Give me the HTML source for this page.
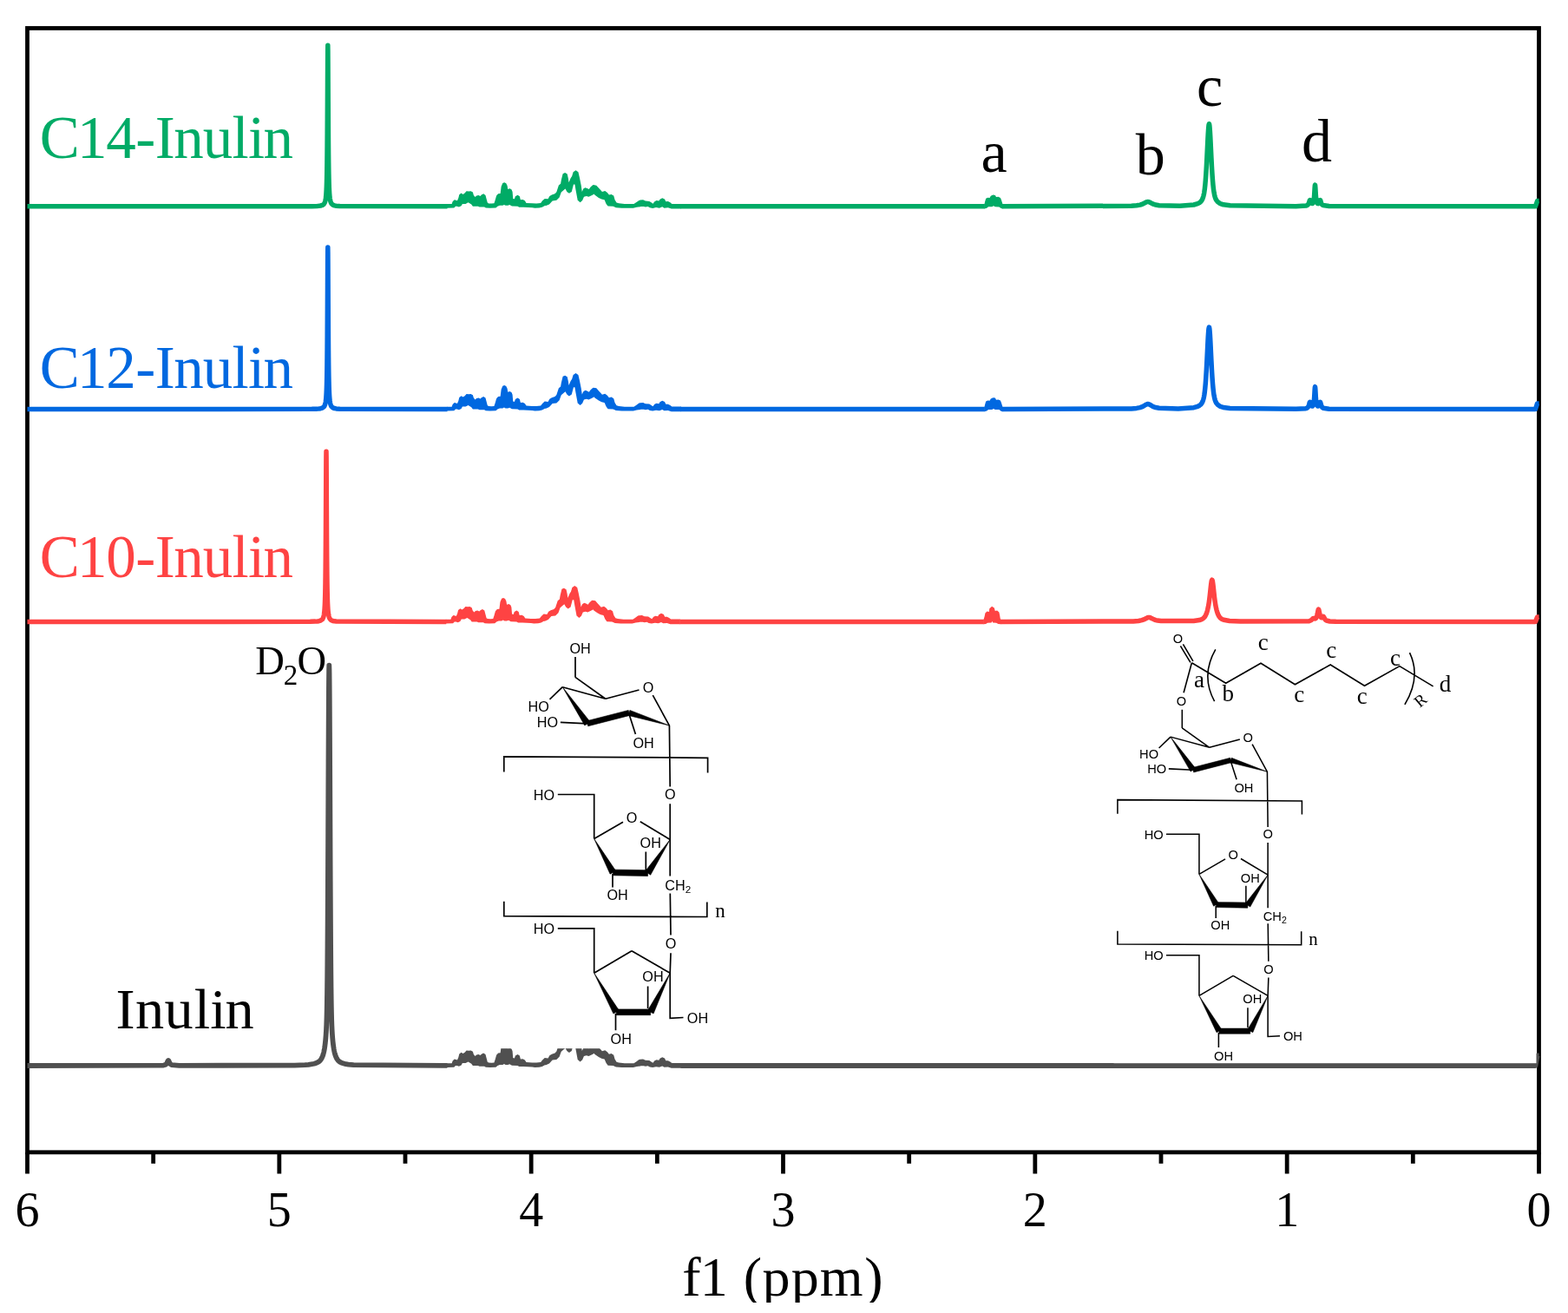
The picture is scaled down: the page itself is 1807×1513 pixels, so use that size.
<!DOCTYPE html>
<html><head><meta charset="utf-8"><title>NMR</title>
<style>
html,body{margin:0;padding:0;background:#fff;overflow:hidden}
svg{display:block}
.serif{font-family:"Liberation Serif","Times New Roman",serif}
.sans{font-family:"Liberation Sans",Arial,sans-serif}
</style></head><body>
<svg width="1807" height="1513" viewBox="0 0 1807 1513">
<rect width="1807" height="1513" fill="#fff"/>
<g stroke="#000" stroke-width="4.8" fill="none">
<rect x="31.5" y="32.5" width="1742" height="1295.3"/>
<line x1="31.50" y1="1328" x2="31.50" y2="1352.5"/><line x1="176.67" y1="1328" x2="176.67" y2="1340.8"/><line x1="321.83" y1="1328" x2="321.83" y2="1352.5"/><line x1="467.00" y1="1328" x2="467.00" y2="1340.8"/><line x1="612.17" y1="1328" x2="612.17" y2="1352.5"/><line x1="757.33" y1="1328" x2="757.33" y2="1340.8"/><line x1="902.50" y1="1328" x2="902.50" y2="1352.5"/><line x1="1047.67" y1="1328" x2="1047.67" y2="1340.8"/><line x1="1192.83" y1="1328" x2="1192.83" y2="1352.5"/><line x1="1338.00" y1="1328" x2="1338.00" y2="1340.8"/><line x1="1483.17" y1="1328" x2="1483.17" y2="1352.5"/><line x1="1628.33" y1="1328" x2="1628.33" y2="1340.8"/><line x1="1773.50" y1="1328" x2="1773.50" y2="1352.5"/>
</g>
<g fill="none" stroke-width="5.5" stroke-linejoin="round" stroke-linecap="butt">
<path d="M31.50,237.80 L359.50,237.63 L365.50,237.43 L367.50,237.27 L369.50,236.99 L371.50,236.40 L373.20,235.18 L374.00,233.99 L374.40,233.07 L374.70,232.14 L374.90,231.36 L375.10,230.41 L375.30,229.24 L375.40,228.54 L375.50,227.77 L375.60,226.89 L375.70,225.89 L375.80,224.76 L375.90,223.46 L376.00,221.96 L376.10,220.22 L376.20,218.20 L376.30,215.82 L376.40,213.00 L376.50,209.64 L376.60,205.60 L376.70,200.70 L376.80,194.72 L376.90,187.36 L377.00,178.26 L377.10,166.99 L377.20,153.10 L377.30,136.24 L377.40,116.47 L377.50,94.83 L377.60,73.96 L377.70,58.24 L377.80,52.30 L377.90,58.24 L378.00,73.96 L378.10,94.83 L378.20,116.47 L378.30,136.24 L378.40,153.10 L378.50,166.99 L378.60,178.26 L378.70,187.36 L378.80,194.72 L378.90,200.70 L379.00,205.60 L379.10,209.64 L379.20,213.00 L379.30,215.82 L379.40,218.20 L379.50,220.22 L379.60,221.96 L379.70,223.46 L379.80,224.76 L379.90,225.89 L380.00,226.89 L380.10,227.77 L380.20,228.54 L380.40,229.85 L380.60,230.91 L380.90,232.14 L381.30,233.33 L381.90,234.52 L383.70,236.20 L385.50,236.86 L387.50,237.20 L391.50,237.50 L515.50,237.80 M784.50,237.80 L1134.90,237.79 M1155.00,237.78 L1303.80,237.26 L1309.80,236.81 L1313.80,236.11 L1315.80,235.50 L1317.80,234.63 L1320.80,233.01 L1321.80,232.63 L1322.80,232.49 L1323.80,232.63 L1324.80,233.00 L1327.80,234.60 L1329.80,235.46 L1331.80,236.05 L1335.80,236.72 L1359.80,237.18 L1375.77,236.01 L1380.28,234.70 L1382.33,233.55 L1383.74,232.35 L1384.38,231.61 L1384.79,231.05 L1385.61,229.62 L1386.02,228.69 L1386.43,227.56 L1386.84,226.18 L1387.30,224.23 L1387.50,223.22 L1387.81,221.43 L1388.07,219.70 L1388.32,217.79 L1388.48,216.45 L1388.83,213.11 L1388.89,212.48 L1389.33,207.34 L1389.50,205.08 L1389.71,202.09 L1389.84,200.12 L1390.12,195.58 L1390.35,191.55 L1390.53,188.23 L1390.86,181.79 L1391.76,163.17 L1391.88,160.76 L1392.17,155.25 L1392.38,151.67 L1392.58,148.69 L1392.89,145.13 L1392.99,144.30 L1393.40,142.76 L1393.50,142.85 L1393.81,144.31 L1393.91,145.13 L1394.22,148.69 L1394.42,151.67 L1394.63,155.25 L1394.93,160.96 L1395.04,163.18 L1395.94,181.80 L1396.27,188.23 L1396.45,191.56 L1396.68,195.58 L1396.96,200.13 L1397.09,202.10 L1397.50,207.73 L1397.91,212.49 L1397.98,213.22 L1398.32,216.46 L1398.48,217.80 L1398.73,219.71 L1398.99,221.45 L1399.14,222.35 L1399.55,224.48 L1400.01,226.38 L1400.37,227.58 L1400.78,228.71 L1401.19,229.63 L1401.60,230.41 L1402.04,231.11 L1403.24,232.55 L1405.70,234.33 L1409.80,235.79 L1417.50,236.84 L1493.50,237.64 L1505.05,237.04 L1506.35,236.58 L1507.00,236.13 L1507.65,235.38 L1508.08,234.60 L1508.60,233.20 L1509.20,231.26 L1509.38,230.85 L1509.50,230.69 L1509.65,230.63 L1509.82,230.77 L1510.10,231.36 L1510.70,233.06 L1511.22,234.09 L1511.77,234.60 L1512.52,234.54 L1512.95,234.10 L1513.28,233.49 L1513.60,232.56 L1513.85,231.51 L1514.03,230.50 L1514.15,229.68 L1514.30,228.44 L1514.47,226.71 L1514.60,225.12 L1514.68,224.01 L1514.80,222.18 L1515.12,216.78 L1515.23,215.13 L1515.33,213.98 L1515.35,213.80 L1515.45,213.23 L1515.50,213.16 L1515.55,213.23 L1515.65,213.80 L1515.67,213.98 L1515.77,215.13 L1515.88,216.78 L1516.20,222.18 L1516.32,224.01 L1516.42,225.38 L1516.55,226.94 L1516.70,228.45 L1516.85,229.68 L1517.00,230.69 L1517.18,231.66 L1517.50,232.90 L1517.93,233.91 L1518.37,234.46 L1519.13,234.65 L1519.70,234.20 L1520.15,233.42 L1521.05,231.00 L1521.20,230.75 L1521.40,230.64 L1521.50,230.70 L1521.65,230.92 L1521.83,231.35 L1522.55,233.67 L1522.92,234.61 L1523.35,235.39 L1523.78,235.93 L1524.65,236.59 L1531.58,237.56 L1769.50,237.79 L1771.60,231.60 L1773.60,231.60" stroke="#00ab66"/>
<path d="M31.50,471.50 L359.50,471.33 L365.50,471.13 L367.50,470.97 L369.50,470.68 L371.50,470.09 L373.20,468.87 L373.90,467.86 L374.40,466.74 L374.70,465.81 L374.90,465.02 L375.10,464.07 L375.30,462.89 L375.40,462.19 L375.50,461.41 L375.60,460.53 L375.70,459.53 L375.80,458.39 L375.90,457.08 L376.00,455.57 L376.10,453.83 L376.20,451.79 L376.30,449.40 L376.40,446.56 L376.50,443.18 L376.60,439.12 L376.70,434.20 L376.80,428.19 L376.90,420.79 L377.00,411.64 L377.10,400.31 L377.20,386.34 L377.30,369.39 L377.40,349.52 L377.50,327.76 L377.60,306.78 L377.70,290.97 L377.80,285.00 L377.90,290.97 L378.00,306.78 L378.10,327.76 L378.20,349.52 L378.30,369.39 L378.40,386.34 L378.50,400.31 L378.60,411.64 L378.70,420.79 L378.80,428.19 L378.90,434.20 L379.00,439.12 L379.10,443.18 L379.20,446.56 L379.30,449.40 L379.40,451.79 L379.50,453.83 L379.60,455.57 L379.70,457.08 L379.80,458.39 L379.90,459.53 L380.00,460.53 L380.10,461.41 L380.20,462.19 L380.40,463.51 L380.60,464.57 L380.90,465.81 L381.30,467.00 L381.90,468.20 L383.70,469.89 L385.50,470.55 L387.50,470.90 L391.50,471.20 L515.50,471.50 M784.50,471.50 L1134.90,471.49 M1155.00,471.48 L1303.80,470.90 L1309.80,470.40 L1313.80,469.63 L1315.80,468.95 L1317.80,467.98 L1320.80,466.17 L1321.80,465.75 L1322.80,465.59 L1323.80,465.74 L1324.80,466.16 L1327.80,467.95 L1329.80,468.91 L1331.80,469.57 L1335.80,470.32 L1357.80,470.90 L1375.77,469.71 L1380.28,468.41 L1382.33,467.27 L1383.74,466.08 L1384.38,465.35 L1384.79,464.79 L1385.61,463.37 L1386.02,462.45 L1386.43,461.32 L1386.84,459.95 L1387.30,458.01 L1387.50,457.01 L1387.81,455.24 L1388.07,453.51 L1388.32,451.62 L1388.48,450.28 L1388.83,446.96 L1388.89,446.34 L1389.33,441.22 L1389.50,438.99 L1389.71,436.01 L1389.84,434.05 L1390.12,429.54 L1390.35,425.54 L1390.53,422.24 L1390.86,415.84 L1391.76,397.34 L1391.88,394.94 L1392.17,389.47 L1392.38,385.90 L1392.58,382.94 L1392.89,379.41 L1392.99,378.59 L1393.40,377.06 L1393.50,377.15 L1393.81,378.59 L1393.91,379.41 L1394.22,382.95 L1394.42,385.91 L1394.63,389.47 L1394.93,395.14 L1395.04,397.34 L1395.94,415.85 L1396.27,422.24 L1396.45,425.54 L1396.68,429.55 L1396.96,434.06 L1397.09,436.02 L1397.50,441.61 L1397.91,446.35 L1397.98,447.08 L1398.32,450.29 L1398.48,451.63 L1398.73,453.52 L1398.99,455.25 L1399.14,456.14 L1399.55,458.26 L1400.01,460.15 L1400.37,461.34 L1400.78,462.46 L1401.19,463.39 L1401.60,464.16 L1402.04,464.85 L1403.24,466.28 L1405.70,468.05 L1409.80,469.50 L1417.50,470.54 L1493.50,471.33 L1504.83,470.71 L1506.35,470.12 L1507.00,469.61 L1507.50,469.00 L1507.87,468.33 L1508.08,467.85 L1508.60,466.25 L1509.20,464.02 L1509.38,463.55 L1509.50,463.36 L1509.65,463.30 L1509.82,463.46 L1510.10,464.15 L1510.70,466.13 L1511.00,466.90 L1511.65,467.88 L1512.08,468.08 L1512.52,467.97 L1512.95,467.53 L1513.28,466.91 L1513.60,465.96 L1513.85,464.87 L1514.03,463.82 L1514.15,462.96 L1514.30,461.68 L1514.47,459.88 L1514.60,458.22 L1514.68,457.07 L1514.80,455.16 L1515.12,449.54 L1515.23,447.82 L1515.33,446.62 L1515.35,446.44 L1515.45,445.84 L1515.50,445.76 L1515.55,445.84 L1515.65,446.44 L1515.67,446.62 L1515.77,447.82 L1515.88,449.54 L1516.20,455.16 L1516.32,457.07 L1516.42,458.49 L1516.55,460.11 L1516.70,461.68 L1516.85,462.97 L1517.00,464.01 L1517.18,465.02 L1517.50,466.30 L1517.93,467.34 L1518.37,467.89 L1518.80,468.08 L1519.57,467.65 L1519.88,467.16 L1520.15,466.55 L1520.60,465.16 L1520.97,463.94 L1521.20,463.43 L1521.40,463.30 L1521.50,463.37 L1521.65,463.62 L1521.83,464.12 L1522.55,466.78 L1522.92,467.86 L1523.13,468.34 L1523.57,469.11 L1524.00,469.62 L1524.87,470.26 L1531.58,471.24 L1769.50,471.49 L1771.60,464.90 L1773.60,464.90" stroke="#0068e0"/>
<path d="M31.50,716.50 L357.50,716.33 L363.50,716.12 L365.50,715.96 L367.50,715.68 L369.50,715.10 L371.30,713.85 L372.10,712.67 L372.60,711.50 L372.90,710.51 L373.10,709.69 L373.30,708.68 L373.50,707.44 L373.60,706.71 L373.70,705.89 L373.80,704.96 L373.90,703.91 L374.00,702.70 L374.10,701.33 L374.20,699.75 L374.30,697.91 L374.40,695.77 L374.50,693.25 L374.60,690.27 L374.70,686.71 L374.80,682.44 L374.90,677.26 L375.00,670.93 L375.10,663.15 L375.20,653.53 L375.30,641.61 L375.40,626.91 L375.50,609.08 L375.60,588.17 L375.70,565.29 L375.80,543.21 L375.90,526.58 L376.00,520.30 L376.10,526.58 L376.20,543.21 L376.30,565.29 L376.40,588.17 L376.50,609.08 L376.60,626.91 L376.70,641.61 L376.80,653.53 L376.90,663.15 L377.00,670.93 L377.10,677.26 L377.20,682.44 L377.30,686.71 L377.40,690.27 L377.50,693.25 L377.60,695.77 L377.70,697.91 L377.80,699.75 L377.90,701.33 L378.00,702.70 L378.10,703.91 L378.20,704.96 L378.30,705.89 L378.40,706.71 L378.60,708.10 L378.80,709.21 L379.00,710.12 L379.30,711.20 L379.80,712.47 L380.70,713.85 L381.90,714.81 L383.50,715.45 L385.50,715.84 L387.50,716.05 L514.30,716.50 M783.30,716.50 L1133.90,716.49 M1152.90,716.49 L1306.00,715.95 L1312.00,715.44 L1316.00,714.64 L1318.00,713.93 L1322.00,711.93 L1323.00,711.56 L1324.00,711.42 L1325.00,711.55 L1326.00,711.92 L1330.00,713.91 L1332.00,714.60 L1334.00,715.07 L1338.00,715.60 L1375.62,715.54 L1382.33,714.57 L1384.92,713.67 L1386.47,712.73 L1387.50,711.81 L1388.13,711.08 L1388.80,710.12 L1389.57,708.72 L1390.13,707.46 L1390.60,706.21 L1391.12,704.59 L1391.63,702.70 L1392.15,700.43 L1392.67,697.74 L1392.80,696.99 L1393.18,694.63 L1393.50,692.41 L1393.70,690.91 L1394.22,686.64 L1394.80,681.33 L1395.25,677.08 L1395.50,674.82 L1395.77,672.58 L1396.13,670.14 L1396.28,669.37 L1396.80,668.16 L1397.32,669.37 L1397.50,670.31 L1397.83,672.58 L1398.13,675.08 L1398.35,677.08 L1398.87,682.00 L1399.50,687.68 L1399.90,690.92 L1400.13,692.63 L1400.42,694.63 L1400.80,697.00 L1400.93,697.75 L1401.50,700.67 L1401.97,702.71 L1402.48,704.60 L1403.00,706.22 L1403.52,707.60 L1404.13,708.94 L1404.80,710.13 L1405.58,711.24 L1406.13,711.86 L1407.13,712.75 L1408.17,713.43 L1410.23,714.30 L1416.95,715.49 L1429.50,716.10 L1508.57,715.70 L1510.97,714.77 L1513.17,712.62 L1513.63,712.42 L1514.20,712.53 L1515.23,712.92 L1515.83,712.85 L1516.30,712.55 L1516.60,712.22 L1516.90,711.75 L1517.20,711.13 L1517.50,710.33 L1517.90,708.90 L1518.17,707.69 L1518.83,704.22 L1519.00,703.41 L1519.23,702.57 L1519.30,702.40 L1519.50,702.18 L1519.60,702.23 L1519.77,702.54 L1519.90,702.94 L1520.03,703.47 L1520.30,704.79 L1520.83,707.49 L1521.17,708.91 L1521.50,709.98 L1521.90,710.89 L1522.30,711.46 L1522.70,711.74 L1522.97,711.77 L1523.23,711.71 L1523.50,711.54 L1524.57,710.42 L1524.83,710.31 L1525.17,710.43 L1525.63,711.08 L1526.83,713.33 L1527.50,714.19 L1528.60,715.02 L1532.50,715.97 L1539.50,716.30 L1769.50,716.50 L1771.60,711.00 L1773.60,711.00" stroke="#fe4343"/>
<path d="M31.50,1227.99 L188.40,1227.53 L190.27,1227.05 L191.07,1226.60 L191.60,1226.13 L192.13,1225.44 L192.40,1224.98 L192.93,1223.83 L193.50,1222.51 L193.73,1222.15 L194.00,1221.98 L194.27,1222.15 L194.53,1222.57 L195.60,1224.98 L196.13,1225.82 L196.67,1226.39 L197.73,1227.05 L206.53,1227.88 L339.50,1227.57 L351.50,1227.12 L355.50,1226.80 L362.08,1225.74 L364.95,1224.77 L366.59,1223.92 L367.82,1223.04 L368.64,1222.29 L369.50,1221.30 L370.28,1220.18 L370.69,1219.47 L371.10,1218.67 L371.98,1216.53 L372.47,1215.02 L372.96,1213.21 L373.28,1211.83 L373.61,1210.20 L373.97,1208.16 L374.26,1206.26 L374.42,1205.10 L374.58,1203.86 L374.79,1202.08 L374.91,1200.98 L375.07,1199.41 L375.23,1197.71 L375.40,1195.72 L375.61,1192.96 L375.72,1191.34 L375.88,1188.72 L376.02,1186.09 L376.05,1185.48 L376.21,1181.84 L376.37,1177.43 L376.43,1175.52 L376.53,1171.97 L376.70,1164.60 L376.84,1156.96 L376.86,1155.73 L377.02,1144.46 L377.19,1129.23 L377.25,1122.93 L377.35,1111.26 L377.50,1090.80 L377.51,1089.30 L377.66,1064.86 L377.67,1063.09 L377.84,1030.63 L378.00,996.18 L378.07,980.13 L378.16,958.85 L378.32,920.03 L378.48,881.51 L378.49,879.16 L378.65,843.27 L378.81,812.17 L378.89,799.08 L378.97,787.95 L379.14,771.73 L379.30,766.60 L379.46,771.73 L379.50,774.58 L379.63,787.95 L379.71,799.08 L379.79,812.17 L379.95,843.27 L380.11,879.16 L380.12,881.51 L380.28,920.03 L380.44,958.85 L380.53,980.13 L380.60,996.18 L380.76,1030.63 L380.93,1063.09 L380.94,1064.86 L381.09,1089.30 L381.25,1111.26 L381.35,1122.93 L381.41,1129.23 L381.50,1137.75 L381.58,1144.46 L381.74,1155.73 L381.76,1156.96 L381.90,1164.60 L382.07,1171.97 L382.17,1175.52 L382.23,1177.43 L382.39,1181.84 L382.55,1185.48 L382.58,1186.09 L382.72,1188.72 L382.88,1191.34 L383.04,1193.65 L383.20,1195.72 L383.40,1198.04 L383.53,1199.41 L383.69,1200.98 L383.85,1202.43 L384.02,1203.86 L384.22,1205.40 L384.51,1207.40 L384.83,1209.33 L385.16,1211.07 L385.50,1212.63 L385.97,1214.47 L386.46,1216.07 L387.11,1217.80 L387.50,1218.67 L387.91,1219.47 L388.32,1220.18 L389.14,1221.35 L389.96,1222.29 L391.60,1223.65 L393.65,1224.77 L398.57,1226.19 L401.50,1226.63 L407.50,1227.15 L515.50,1227.96 M784.50,1228.00 L1769.50,1228.00 L1771.60,1216.50 L1773.60,1216.50" stroke="#505050" stroke-width="5.8"/>
<path d="M515.00,235.05 L520.64,235.05 L521.64,232.22 L523.63,230.23 L525.62,230.73 L526.95,231.23 L528.28,228.24 L529.28,224.26 L531.60,222.60 L533.59,223.92 L535.58,222.60 L537.58,220.27 L540.23,220.44 L542.56,220.27 L544.88,221.60 L545.88,224.92 L547.54,226.91 L549.20,225.42 L551.52,224.92 L553.51,225.92 L554.84,224.59 L557.16,223.26 L559.49,224.92 L560.82,229.90 L561.81,233.55 L563.14,234.38 L566.46,234.55 L569.45,234.22 L570.78,230.23 L572.10,225.58 L574.10,223.26 L576.64,222.93 L577.64,214.96 L579.30,210.98 L581.29,210.31 L583.28,211.31 L584.61,213.96 L585.27,217.95 L587.60,217.28 L589.59,218.61 L590.58,220.94 L591.25,228.90 L592.91,229.24 L593.90,226.25 L596.56,224.75 L598.88,226.25 L599.88,230.23 L602.54,230.07 L604.86,231.23 L606.52,233.88 L613.16,234.22 L618.14,234.38 L623.12,233.88 L625.11,231.23 L627.77,228.90 L631.54,229.24 L633.36,225.97 L635.90,224.52 L639.53,223.25 L641.35,221.25 L643.90,213.62 L646.08,211.80 L646.80,207.44 L648.62,200.17 L651.16,199.08 L653.71,200.54 L654.80,205.26 L655.52,210.35 L657.70,205.26 L659.16,203.08 L660.61,198.36 L663.52,196.18 L666.42,198.36 L667.88,204.53 L669.69,213.62 L670.78,220.89 L672.24,217.62 L674.42,216.16 L676.60,216.89 L678.78,217.98 L680.60,215.44 L683.14,213.26 L683.98,212.97 L687.30,213.63 L689.63,216.29 L692.62,219.61 L693.94,220.94 L697.26,219.94 L699.92,221.93 L701.91,224.59 L704.57,223.92 L707.22,225.58 L708.55,230.23 L710.54,233.55 L713.20,234.22 L719.84,235.05 L730.46,235.05 L733.12,233.22 L736.44,230.90 L737.77,230.50 L741.09,230.22 L743.85,231.60 L748.28,231.88 L750.50,233.26 L752.43,234.65 L754.37,232.16 L756.58,231.05 L759.35,231.60 L760.46,229.67 L763.22,228.14 L765.99,229.39 L767.37,232.16 L769.86,232.02 L772.35,233.26 L774.29,234.92 L785.00,234.92 L785.00,240.46 L773.74,240.46 L769.86,239.35 L765.44,239.63 L763.22,238.24 L759.90,239.63 L756.03,239.07 L752.16,239.90 L748.84,239.35 L746.62,237.97 L743.85,238.52 L741.92,237.97 L738.32,237.97 L738.10,238.20 L733.78,238.86 L729.80,239.86 L723.16,239.86 L716.52,239.69 L709.88,239.20 L706.56,237.87 L700.58,237.54 L698.59,234.88 L696.60,230.23 L693.28,229.57 L689.96,227.91 L686.64,225.58 L684.98,224.26 L684.99,223.43 L681.69,225.25 L678.42,226.70 L675.87,225.97 L672.97,226.70 L671.15,231.06 L668.60,233.24 L665.70,230.70 L663.52,219.07 L662.43,212.53 L660.97,212.53 L658.79,220.89 L655.89,222.70 L653.34,220.89 L651.53,217.62 L649.71,219.07 L646.80,221.61 L644.62,227.43 L641.35,230.70 L636.63,231.42 L632.99,235.42 L628.63,237.24 L628.43,236.87 L624.78,238.86 L621.46,239.53 L616.48,239.69 L613.16,239.20 L603.20,238.86 L598.22,238.70 L596.56,237.87 L589.92,237.54 L587.26,236.04 L585.27,236.71 L582.62,236.87 L580.96,235.88 L579.30,236.71 L575.98,236.87 L573.43,237.87 L571.44,239.53 L564.80,239.86 L559.82,239.53 L558.16,238.53 L552.52,238.53 L550.86,237.70 L544.88,237.70 L543.22,235.54 L539.57,233.22 L536.58,234.88 L532.93,234.88 L531.60,237.20 L528.94,238.53 L526.62,237.87 L524.96,237.87 L523.30,239.53 L515.00,239.86 Z" fill="#00ab66" stroke="none"/>
<path d="M1134.50,235.05 L1135.30,231.80 L1136.20,228.80 L1138.30,227.70 L1140.50,228.00 L1141.80,225.80 L1144.50,224.50 L1146.90,224.90 L1148.00,227.00 L1150.50,226.80 L1152.90,227.90 L1153.90,230.30 L1155.40,235.05 L1155.40,240.55 L1153.50,240.00 L1151.50,238.40 L1146.80,238.20 L1145.00,237.20 L1143.20,238.20 L1139.00,238.20 L1137.20,239.80 L1134.50,240.55 Z" fill="#00ab66" stroke="none"/>
<path d="M515.00,468.75 L520.64,468.75 L521.64,465.92 L523.63,463.93 L525.62,464.43 L526.95,464.93 L528.28,461.94 L529.28,457.96 L531.60,456.30 L533.59,457.62 L535.58,456.30 L537.58,453.97 L540.23,454.14 L542.56,453.97 L544.88,455.30 L545.88,458.62 L547.54,460.61 L549.20,459.12 L551.52,458.62 L553.51,459.62 L554.84,458.29 L557.16,456.96 L559.49,458.62 L560.82,463.60 L561.81,467.25 L563.14,468.08 L566.46,468.25 L569.45,467.92 L570.78,463.93 L572.10,459.28 L574.10,456.96 L576.64,456.63 L577.64,448.66 L579.30,444.68 L581.29,444.01 L583.28,445.01 L584.61,447.66 L585.27,451.65 L587.60,450.98 L589.59,452.31 L590.58,454.64 L591.25,462.60 L592.91,462.94 L593.90,459.95 L596.56,458.45 L598.88,459.95 L599.88,463.93 L602.54,463.77 L604.86,464.93 L606.52,467.58 L613.16,467.92 L618.14,468.08 L623.12,467.58 L625.11,464.93 L627.77,462.60 L631.54,462.94 L633.36,459.67 L635.90,458.22 L639.53,456.95 L641.35,454.95 L643.90,447.32 L646.08,445.50 L646.80,441.14 L648.62,433.87 L651.16,432.78 L653.71,434.24 L654.80,438.96 L655.52,444.05 L657.70,438.96 L659.16,436.78 L660.61,432.06 L663.52,429.88 L666.42,432.06 L667.88,438.23 L669.69,447.32 L670.78,454.59 L672.24,451.32 L674.42,449.86 L676.60,450.59 L678.78,451.68 L680.60,449.14 L683.14,446.96 L683.98,446.67 L687.30,447.33 L689.63,449.99 L692.62,453.31 L693.94,454.64 L697.26,453.64 L699.92,455.63 L701.91,458.29 L704.57,457.62 L707.22,459.28 L708.55,463.93 L710.54,467.25 L713.20,467.92 L719.84,468.75 L730.46,468.75 L733.12,466.92 L736.44,464.60 L737.77,464.20 L741.09,463.92 L743.85,465.30 L748.28,465.58 L750.50,466.96 L752.43,468.35 L754.37,465.86 L756.58,464.75 L759.35,465.30 L760.46,463.37 L763.22,461.84 L765.99,463.09 L767.37,465.86 L769.86,465.72 L772.35,466.96 L774.29,468.62 L785.00,468.62 L785.00,474.16 L773.74,474.16 L769.86,473.05 L765.44,473.33 L763.22,471.94 L759.90,473.33 L756.03,472.77 L752.16,473.60 L748.84,473.05 L746.62,471.67 L743.85,472.22 L741.92,471.67 L738.32,471.67 L738.10,471.90 L733.78,472.56 L729.80,473.56 L723.16,473.56 L716.52,473.39 L709.88,472.90 L706.56,471.57 L700.58,471.24 L698.59,468.58 L696.60,463.93 L693.28,463.27 L689.96,461.61 L686.64,459.28 L684.98,457.96 L684.99,457.13 L681.69,458.95 L678.42,460.40 L675.87,459.67 L672.97,460.40 L671.15,464.76 L668.60,466.94 L665.70,464.40 L663.52,452.77 L662.43,446.23 L660.97,446.23 L658.79,454.59 L655.89,456.40 L653.34,454.59 L651.53,451.32 L649.71,452.77 L646.80,455.31 L644.62,461.13 L641.35,464.40 L636.63,465.12 L632.99,469.12 L628.63,470.94 L628.43,470.57 L624.78,472.56 L621.46,473.23 L616.48,473.39 L613.16,472.90 L603.20,472.56 L598.22,472.40 L596.56,471.57 L589.92,471.24 L587.26,469.74 L585.27,470.41 L582.62,470.57 L580.96,469.58 L579.30,470.41 L575.98,470.57 L573.43,471.57 L571.44,473.23 L564.80,473.56 L559.82,473.23 L558.16,472.23 L552.52,472.23 L550.86,471.40 L544.88,471.40 L543.22,469.24 L539.57,466.92 L536.58,468.58 L532.93,468.58 L531.60,470.90 L528.94,472.23 L526.62,471.57 L524.96,471.57 L523.30,473.23 L515.00,473.56 Z" fill="#0068e0" stroke="none"/>
<path d="M1134.50,468.75 L1135.30,465.50 L1136.20,462.50 L1138.30,461.40 L1140.50,461.70 L1141.80,459.50 L1144.50,458.20 L1146.90,458.60 L1148.00,460.70 L1150.50,460.50 L1152.90,461.60 L1153.90,464.00 L1155.40,468.75 L1155.40,474.25 L1153.50,473.70 L1151.50,472.10 L1146.80,471.90 L1145.00,470.90 L1143.20,471.90 L1139.00,471.90 L1137.20,473.50 L1134.50,474.25 Z" fill="#0068e0" stroke="none"/>
<path d="M513.80,713.75 L519.44,713.75 L520.44,710.92 L522.43,708.93 L524.42,709.43 L525.75,709.93 L527.08,706.94 L528.08,702.96 L530.40,701.30 L532.39,702.62 L534.38,701.30 L536.38,698.97 L539.03,699.14 L541.36,698.97 L543.68,700.30 L544.68,703.62 L546.34,705.61 L548.00,704.12 L550.32,703.62 L552.31,704.62 L553.64,703.29 L555.96,701.96 L558.29,703.62 L559.62,708.60 L560.61,712.25 L561.94,713.08 L565.26,713.25 L568.25,712.92 L569.58,708.93 L570.90,704.28 L572.90,701.96 L575.44,701.63 L576.44,693.66 L578.10,689.68 L580.09,689.01 L582.08,690.01 L583.41,692.66 L584.07,696.65 L586.40,695.98 L588.39,697.31 L589.38,699.64 L590.05,707.60 L591.71,707.94 L592.70,704.95 L595.36,703.45 L597.68,704.95 L598.68,708.93 L601.34,708.77 L603.66,709.93 L605.32,712.58 L611.96,712.92 L616.94,713.08 L621.92,712.58 L623.91,709.93 L626.57,707.60 L630.34,707.94 L632.16,704.67 L634.70,703.22 L638.33,701.95 L640.15,699.95 L642.70,692.32 L644.88,690.50 L645.60,686.14 L647.42,678.87 L649.96,677.78 L652.51,679.24 L653.60,683.96 L654.32,689.05 L656.50,683.96 L657.96,681.78 L659.41,677.06 L662.32,674.88 L665.22,677.06 L666.68,683.23 L668.49,692.32 L669.58,699.59 L671.04,696.32 L673.22,694.86 L675.40,695.59 L677.58,696.68 L679.40,694.14 L681.94,691.96 L682.78,691.67 L686.10,692.33 L688.43,694.99 L691.42,698.31 L692.74,699.64 L696.06,698.64 L698.72,700.63 L700.71,703.29 L703.37,702.62 L706.02,704.28 L707.35,708.93 L709.34,712.25 L712.00,712.92 L718.64,713.75 L729.26,713.75 L731.92,711.92 L735.24,709.60 L736.57,709.20 L739.89,708.92 L742.65,710.30 L747.08,710.58 L749.30,711.96 L751.23,713.35 L753.17,710.86 L755.38,709.75 L758.15,710.30 L759.26,708.37 L762.02,706.84 L764.79,708.09 L766.17,710.86 L768.66,710.72 L771.15,711.96 L773.09,713.62 L783.80,713.62 L783.80,719.16 L772.54,719.16 L768.66,718.05 L764.24,718.33 L762.02,716.94 L758.70,718.33 L754.83,717.77 L750.96,718.60 L747.64,718.05 L745.42,716.67 L742.65,717.22 L740.72,716.67 L737.12,716.67 L736.90,716.90 L732.58,717.56 L728.60,718.56 L721.96,718.56 L715.32,718.39 L708.68,717.90 L705.36,716.57 L699.38,716.24 L697.39,713.58 L695.40,708.93 L692.08,708.27 L688.76,706.61 L685.44,704.28 L683.78,702.96 L683.79,702.13 L680.49,703.95 L677.22,705.40 L674.67,704.67 L671.77,705.40 L669.95,709.76 L667.40,711.94 L664.50,709.40 L662.32,697.77 L661.23,691.23 L659.77,691.23 L657.59,699.59 L654.69,701.40 L652.14,699.59 L650.33,696.32 L648.51,697.77 L645.60,700.31 L643.42,706.13 L640.15,709.40 L635.43,710.12 L631.79,714.12 L627.43,715.94 L627.23,715.57 L623.58,717.56 L620.26,718.23 L615.28,718.39 L611.96,717.90 L602.00,717.56 L597.02,717.40 L595.36,716.57 L588.72,716.24 L586.06,714.74 L584.07,715.41 L581.42,715.57 L579.76,714.58 L578.10,715.41 L574.78,715.57 L572.23,716.57 L570.24,718.23 L563.60,718.56 L558.62,718.23 L556.96,717.23 L551.32,717.23 L549.66,716.40 L543.68,716.40 L542.02,714.24 L538.37,711.92 L535.38,713.58 L531.73,713.58 L530.40,715.90 L527.74,717.23 L525.42,716.57 L523.76,716.57 L522.10,718.23 L513.80,718.56 Z" fill="#fe4343" stroke="none"/>
<path d="M1133.50,713.75 L1133.80,713.30 L1134.70,709.90 L1135.40,706.40 L1137.50,704.60 L1139.80,705.00 L1140.30,701.30 L1143.10,698.80 L1145.80,700.40 L1146.80,704.10 L1149.10,703.60 L1151.40,705.50 L1152.10,708.70 L1152.80,712.90 L1153.30,713.75 L1153.30,719.25 L1150.40,719.10 L1148.10,717.70 L1144.20,717.50 L1143.40,715.70 L1142.60,717.50 L1138.00,717.70 L1136.10,719.10 L1133.50,719.25 Z" fill="#fe4343" stroke="none"/>
<path d="M515.00,1225.25 L520.64,1225.25 L521.64,1222.42 L523.63,1220.43 L525.62,1220.93 L526.95,1221.43 L528.28,1218.44 L529.28,1214.46 L531.60,1212.80 L533.59,1214.12 L535.58,1212.80 L537.58,1210.47 L540.23,1210.64 L542.56,1210.47 L544.88,1211.80 L545.88,1215.12 L547.54,1217.11 L549.20,1215.62 L551.52,1215.12 L553.51,1216.12 L554.84,1214.79 L557.16,1213.46 L559.49,1215.12 L560.82,1220.10 L561.81,1223.75 L563.14,1224.58 L566.46,1224.75 L569.45,1224.42 L570.78,1220.43 L572.10,1215.78 L574.10,1213.46 L576.64,1213.13 L577.64,1205.16 L579.30,1201.18 L581.29,1200.51 L583.28,1201.51 L584.61,1204.16 L585.27,1208.15 L587.60,1207.48 L589.59,1208.81 L590.58,1211.14 L591.25,1219.10 L592.91,1219.44 L593.90,1216.45 L596.56,1214.95 L598.88,1216.45 L599.88,1220.43 L602.54,1220.27 L604.86,1221.43 L606.52,1224.08 L613.16,1224.42 L618.14,1224.58 L623.12,1224.08 L625.11,1221.43 L627.77,1219.10 L631.54,1219.44 L633.36,1216.17 L635.90,1214.72 L639.53,1213.45 L641.35,1211.45 L643.90,1203.82 L646.08,1202.00 L646.80,1197.64 L648.62,1190.37 L651.16,1189.28 L653.71,1190.74 L654.80,1195.46 L655.52,1200.55 L657.70,1195.46 L659.16,1193.28 L660.61,1188.56 L663.52,1186.38 L666.42,1188.56 L667.88,1194.73 L669.69,1203.82 L670.78,1211.09 L672.24,1207.82 L674.42,1206.36 L676.60,1207.09 L678.78,1208.18 L680.60,1205.64 L683.14,1203.46 L683.98,1203.17 L687.30,1203.83 L689.63,1206.49 L692.62,1209.81 L693.94,1211.14 L697.26,1210.14 L699.92,1212.13 L701.91,1214.79 L704.57,1214.12 L707.22,1215.78 L708.55,1220.43 L710.54,1223.75 L713.20,1224.42 L719.84,1225.25 L730.46,1225.25 L733.12,1223.42 L736.44,1221.10 L737.77,1220.70 L741.09,1220.42 L743.85,1221.80 L748.28,1222.08 L750.50,1223.46 L752.43,1224.85 L754.37,1222.36 L756.58,1221.25 L759.35,1221.80 L760.46,1219.87 L763.22,1218.34 L765.99,1219.59 L767.37,1222.36 L769.86,1222.22 L772.35,1223.46 L774.29,1225.12 L785.00,1225.12 L785.00,1230.66 L773.74,1230.66 L769.86,1229.55 L765.44,1229.83 L763.22,1228.44 L759.90,1229.83 L756.03,1229.27 L752.16,1230.10 L748.84,1229.55 L746.62,1228.17 L743.85,1228.72 L741.92,1228.17 L738.32,1228.17 L738.10,1228.40 L733.78,1229.06 L729.80,1230.06 L723.16,1230.06 L716.52,1229.89 L709.88,1229.40 L706.56,1228.07 L700.58,1227.74 L698.59,1225.08 L696.60,1220.43 L693.28,1219.77 L689.96,1218.11 L686.64,1215.78 L684.98,1214.46 L684.99,1213.63 L681.69,1215.45 L678.42,1216.90 L675.87,1216.17 L672.97,1216.90 L671.15,1221.26 L668.60,1223.44 L665.70,1220.90 L663.52,1209.27 L662.43,1202.73 L660.97,1202.73 L658.79,1211.09 L655.89,1212.90 L653.34,1211.09 L651.53,1207.82 L649.71,1209.27 L646.80,1211.81 L644.62,1217.63 L641.35,1220.90 L636.63,1221.62 L632.99,1225.62 L628.63,1227.44 L628.43,1227.07 L624.78,1229.06 L621.46,1229.73 L616.48,1229.89 L613.16,1229.40 L603.20,1229.06 L598.22,1228.90 L596.56,1228.07 L589.92,1227.74 L587.26,1226.24 L585.27,1226.91 L582.62,1227.07 L580.96,1226.08 L579.30,1226.91 L575.98,1227.07 L573.43,1228.07 L571.44,1229.73 L564.80,1230.06 L559.82,1229.73 L558.16,1228.73 L552.52,1228.73 L550.86,1227.90 L544.88,1227.90 L543.22,1225.74 L539.57,1223.42 L536.58,1225.08 L532.93,1225.08 L531.60,1227.40 L528.94,1228.73 L526.62,1228.07 L524.96,1228.07 L523.30,1229.73 L515.00,1230.06 Z" fill="#505050" stroke="none"/>
</g>
<rect x="576" y="724" width="262" height="484.2" fill="#fff"/>
<g><path fill="none" stroke="#000" stroke-width="1.7" stroke-linejoin="miter" stroke-linecap="butt" d="M663.0,757.1 L663.0,780.4 M663.0,780.4 L697.8,805.2 M648.3,791.7 L697.8,805.2 M697.8,805.2 L736.5,795.0 M752.3,801.2 L771.4,836.1 M648.3,791.7 L633.5,805.9 M676.9,833.8 L645.9,832.3 M725.0,823.0 L732.4,845.9 M771.4,836.1 L772.2,906.6 M580.8,889.6 L580.8,871.8 L815.6,873.3 L815.6,890.4 M772.2,926.3 L772.2,967.4 M642.8,915.5 L684.7,915.5 L684.7,966.6 M684.7,966.6 L718.0,947.3 M737.8,946.8 L772.2,967.4 M744.3,1003.0 L744.3,981.4 M706.0,1007.0 L706.0,1022.4 M772.2,967.4 L772.2,1009.5 M772.3,1029.5 L773.0,1077.5 M580.8,1038.7 L580.8,1055.7 L814.8,1056.5 L814.8,1039.4 M642.8,1069.8 L684.7,1069.8 L684.7,1121.3 M684.7,1121.3 L728.0,1095.8 M728.0,1095.8 L772.2,1121.3 M773.0,1098.3 L772.2,1121.3 M772.2,1121.3 L772.2,1173.3 L787.5,1172.5 M746.6,1162.0 L746.6,1136.5 M709.5,1168.0 L709.5,1187.2"/>
<path fill="#000" stroke="#000" stroke-width="0.6" stroke-linejoin="round" d="M648.3,791.7 L673.8,835.9 L680.0,831.7 Z M677.7,836.8 L725.8,824.4 L724.2,818.4 L676.1,830.8 Z M771.4,836.1 L725.9,818.4 L724.1,824.4 Z M684.7,966.6 L703.1,1007.2 L709.7,1003.6 Z M706.3,1008.8 L746.5,1009.5 L746.7,1002.7 L706.5,1002.0 Z M772.2,967.4 L743.5,1004.0 L749.7,1008.2 Z M684.7,1121.3 L706.9,1168.1 L713.5,1164.5 Z M710.2,1169.7 L749.7,1169.7 L749.7,1162.9 L710.2,1162.9 Z M772.2,1121.3 L746.3,1164.6 L753.1,1168.0 Z"/>
<g class="sans" font-size="16.2" fill="#000" text-anchor="middle">
<text x="620.75" y="819.5">HO</text>
<text x="630.9" y="838.1">HO</text>
<text x="747" y="798">O</text>
<text x="741.6" y="861.9">OH</text>
<text x="772.2" y="921.3">O</text>
<text x="627" y="921.6">HO</text>
<text x="728" y="947.9">O</text>
<text x="749.7" y="977.4">OH</text>
<text x="711.6" y="1037">OH</text>
<text x="773" y="1092.8">O</text>
<text x="627" y="1075.9">HO</text>
<text x="752.5" y="1131.3">OH</text>
<text x="715.7" y="1203.4">OH</text>
<text x="804" y="1178.6">OH</text>
</g>
<text class="sans" x="766.3" y="1025.5" font-size="16.2" fill="#000">CH<tspan font-size="11.7" dy="3.2">2</tspan></text>
<text class="serif" x="824.2" y="1057.2" font-size="23" fill="#000">n</text></g>
<text class="sans" x="668.55" y="753.2" font-size="16.2" text-anchor="middle" fill="#000">OH</text>
<rect x="1283.5" y="721" width="487" height="504.2" fill="#fff"/>
<g transform="translate(1460.4,889.3) scale(0.905) translate(-771.4,-836.1)"><path fill="none" stroke="#000" stroke-width="1.7" stroke-linejoin="miter" stroke-linecap="butt" d="M663.0,757.1 L663.0,780.4 M663.0,780.4 L697.8,805.2 M648.3,791.7 L697.8,805.2 M697.8,805.2 L736.5,795.0 M752.3,801.2 L771.4,836.1 M648.3,791.7 L633.5,805.9 M676.9,833.8 L645.9,832.3 M725.0,823.0 L732.4,845.9 M771.4,836.1 L772.2,906.6 M580.8,889.6 L580.8,871.8 L815.6,873.3 L815.6,890.4 M772.2,926.3 L772.2,967.4 M642.8,915.5 L684.7,915.5 L684.7,966.6 M684.7,966.6 L718.0,947.3 M737.8,946.8 L772.2,967.4 M744.3,1003.0 L744.3,981.4 M706.0,1007.0 L706.0,1022.4 M772.2,967.4 L772.2,1009.5 M772.3,1029.5 L773.0,1077.5 M580.8,1038.7 L580.8,1055.7 L814.8,1056.5 L814.8,1039.4 M642.8,1069.8 L684.7,1069.8 L684.7,1121.3 M684.7,1121.3 L728.0,1095.8 M728.0,1095.8 L772.2,1121.3 M773.0,1098.3 L772.2,1121.3 M772.2,1121.3 L772.2,1173.3 L787.5,1172.5 M746.6,1162.0 L746.6,1136.5 M709.5,1168.0 L709.5,1187.2"/>
<path fill="#000" stroke="#000" stroke-width="0.6" stroke-linejoin="round" d="M648.3,791.7 L673.8,835.9 L680.0,831.7 Z M677.7,836.8 L725.8,824.4 L724.2,818.4 L676.1,830.8 Z M771.4,836.1 L725.9,818.4 L724.1,824.4 Z M684.7,966.6 L703.1,1007.2 L709.7,1003.6 Z M706.3,1008.8 L746.5,1009.5 L746.7,1002.7 L706.5,1002.0 Z M772.2,967.4 L743.5,1004.0 L749.7,1008.2 Z M684.7,1121.3 L706.9,1168.1 L713.5,1164.5 Z M710.2,1169.7 L749.7,1169.7 L749.7,1162.9 L710.2,1162.9 Z M772.2,1121.3 L746.3,1164.6 L753.1,1168.0 Z"/>
<g class="sans" font-size="16.2" fill="#000" text-anchor="middle">
<text x="620.75" y="819.5">HO</text>
<text x="630.9" y="838.1">HO</text>
<text x="747" y="798">O</text>
<text x="741.6" y="861.9">OH</text>
<text x="772.2" y="921.3">O</text>
<text x="627" y="921.6">HO</text>
<text x="728" y="947.9">O</text>
<text x="749.7" y="977.4">OH</text>
<text x="711.6" y="1037">OH</text>
<text x="773" y="1092.8">O</text>
<text x="627" y="1075.9">HO</text>
<text x="752.5" y="1131.3">OH</text>
<text x="715.7" y="1203.4">OH</text>
<text x="804" y="1178.6">OH</text>
</g>
<text class="sans" x="766.3" y="1025.5" font-size="16.2" fill="#000">CH<tspan font-size="11.7" dy="3.2">2</tspan></text>
<text class="serif" x="824.2" y="1057.2" font-size="23" fill="#000">n</text></g>
<path fill="none" stroke="#000" stroke-width="1.6" stroke-linejoin="miter" d="M1373.4,763.8 L1412.7,787.2 L1453,764.3 L1492.4,788.7 L1533.2,766 L1572.5,790.3 L1612.9,767.6 L1651.6,790.9 M1373.4,763.8 L1364.1,798.2 M1360.4,744.4 L1371.9,763.3 M1363.4,742.4 L1374.9,761.8 M1400.8,748.4 Q1383.5,778.3 1399.6,808.2 M1624.5,752.1 Q1638,780 1618.9,811.9"/>
<g class="sans" font-size="14.6" fill="#000" text-anchor="middle"><text x="1357.4" y="740.9">O</text><text x="1361.4" y="813.1">O</text></g>
<g class="serif" font-size="27" fill="#000" text-anchor="middle"><text x="1381.9" y="791.8">a</text><text x="1415.2" y="808">b</text><text x="1455.8" y="749.2">c</text><text x="1534.3" y="757.5">c</text><text x="1607.9" y="766.9">c</text><text x="1497.2" y="808.9">c</text><text x="1569.7" y="810.6">c</text><text x="1665.6" y="796.8">d</text></g>
<text class="serif" font-size="19" fill="#000" text-anchor="middle" transform="translate(1641,812) rotate(-40)">R</text>
<g class="serif" font-size="69">
<text x="45.85 89.00 122.30 156.20 178.70 200.30 233.70 267.40 286.00 303.40" y="182.1" fill="#00ab66">C14-Inulin</text>
<text x="45.85 89.00 122.30 156.20 178.70 200.30 233.70 267.40 286.00 303.40" y="447.1" fill="#0068e0">C12-Inulin</text>
<text x="45.85 89.00 122.30 156.20 178.70 200.30 233.70 267.40 286.00 303.40" y="665.1" fill="#fe4343">C10-Inulin</text>
</g>
<text class="serif" x="133.60 155.88 189.43 223.77 242.31 259.58" y="1184.7" fill="#000" font-size="66.3">Inulin</text>
<g class="serif" font-size="68" fill="#000" text-anchor="middle">
<text x="1145.65" y="197.6">a</text>
<text x="1325.8" y="200.5">b</text>
<text x="1394.1" y="121.7">c</text>
<text x="1517.5" y="186.4" font-size="70">d</text>
</g>
<g class="serif" fill="#000"><text x="294.3" y="776.6" font-size="46.5">D</text><text x="326.75" y="789.2" font-size="33">2</text><text x="342.49" y="776.8" font-size="46.5">O</text></g>
<g class="serif" font-size="56" fill="#000">
<text x="31.50" y="1412.6" text-anchor="middle">6</text><text x="321.83" y="1412.6" text-anchor="middle">5</text><text x="612.17" y="1412.6" text-anchor="middle">4</text><text x="902.50" y="1412.6" text-anchor="middle">3</text><text x="1192.83" y="1412.6" text-anchor="middle">2</text><text x="1483.17" y="1412.6" text-anchor="middle">1</text><text x="1773.50" y="1412.6" text-anchor="middle">0</text>
</g>
<text class="serif" x="786.23 806.67 838.67 856.79 878.47 911.67 944.66 996.24" y="1493" font-size="64" fill="#000">f1 (ppm)</text>
<rect x="700" y="1501" width="400" height="12" fill="#fff"/>
</svg>
</body></html>
